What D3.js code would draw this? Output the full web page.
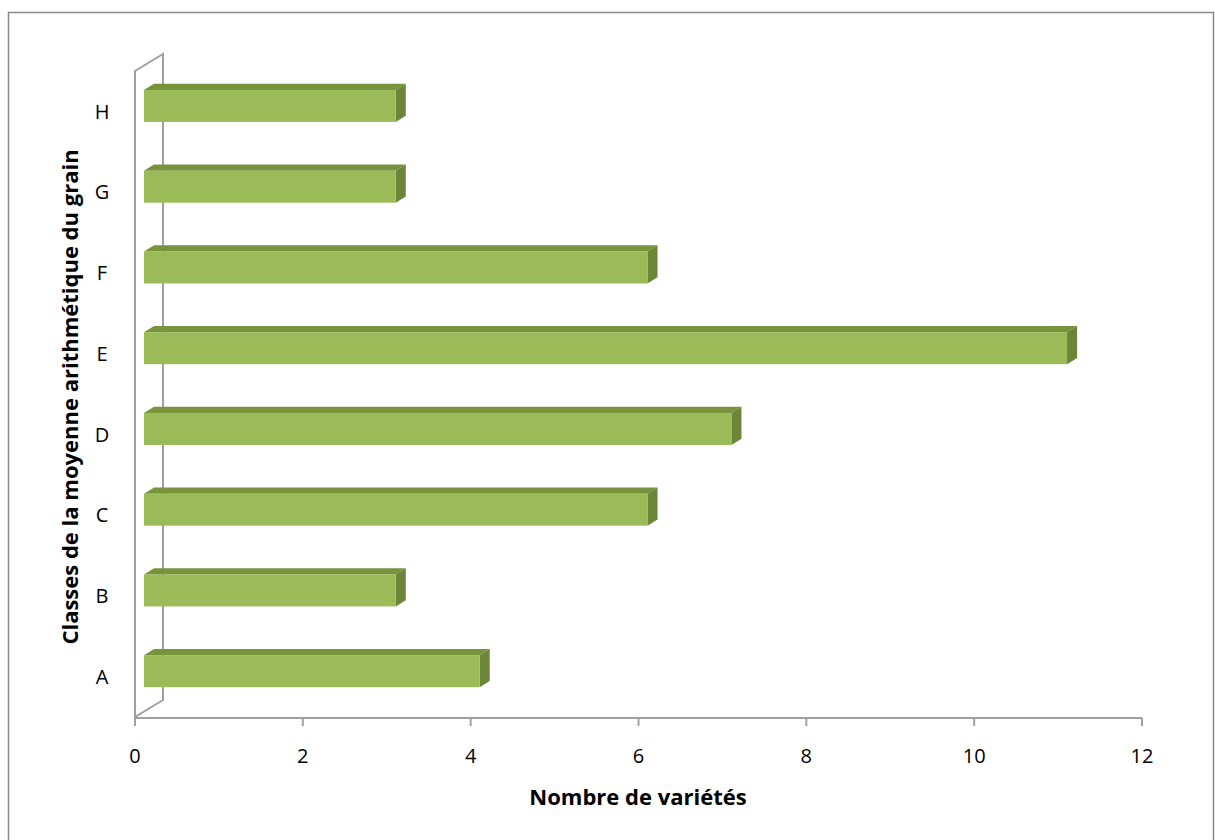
<!DOCTYPE html>
<html>
<head>
<meta charset="utf-8">
<script src="https://cdn.jsdelivr.net/npm/d3@7"></script>
<style>
  body { margin: 0; background: #fff; }
  text { font-family: "Open Sans", "Liberation Sans", sans-serif; fill: #000; }
</style>
</head>
<body>
<svg id="chart" width="1215" height="840"></svg>
<script>
const categories = ["A", "B", "C", "D", "E", "F", "G", "H"];
const values = [4, 3, 6, 7, 11, 6, 3, 3];
const xTicks = [0, 2, 4, 6, 8, 10, 12];
const xTitle = "Nombre de variétés";
const yTitle = "Classes de la moyenne arithmétique du grain";

const FRONT = "#9bbb59";
const TOP = "#77933c";
const SIDE = "#6b8637";
const AXIS = "#a0a0a0";

// depth of the 3d box (back wall offset)
const DX = 28, DY = -17;
const T0 = 0.32, T1 = 0.68; // bar front / back in depth

const svg = d3.select("#chart");

// outer frame
svg.append("rect")
  .attr("x", 8.5).attr("y", 12.5)
  .attr("width", 1205).attr("height", 840)
  .attr("fill", "none").attr("stroke", "#888").attr("stroke-width", 1.5);

const x = d3.scaleLinear().domain([0, 12]).range([135, 1142]);
const y = d3.scaleBand().domain(categories.slice().reverse()).range([71, 717]);

const x0 = x(0), yBot = y.range()[1], yTop = y.range()[0];

// side wall
const wall = svg.append("g").attr("fill", "none").attr("stroke", AXIS).attr("stroke-width", 2);
wall.append("path")
  .attr("d", `M${x0},${yBot} L${x0},${yTop} L${x0 + DX},${yTop + DY} L${x0 + DX},${yBot + DY} Z`);

// floor line + ticks
const axis = svg.append("g").attr("stroke", AXIS).attr("stroke-width", 2);
axis.append("line")
  .attr("x1", x0).attr("x2", x(12))
  .attr("y1", yBot + 1).attr("y2", yBot + 1);
axis.selectAll("line.tick")
  .data(xTicks)
  .join("line")
  .attr("class", "tick")
  .attr("x1", (d) => x(d)).attr("x2", (d) => x(d))
  .attr("y1", yBot + 1).attr("y2", yBot + 9);

svg.append("g")
  .selectAll("text")
  .data(xTicks)
  .join("text")
  .attr("x", (d) => x(d))
  .attr("y", yBot + 46)
  .attr("text-anchor", "middle")
  .style("font-size", "20px")
  .text((d) => d);

// category labels
svg.append("g")
  .selectAll("text")
  .data(categories)
  .join("text")
  .attr("x", 102)
  .attr("y", (d) => y(d) + y.bandwidth() / 2 + 2)
  .attr("text-anchor", "middle")
  .attr("dominant-baseline", "middle")
  .style("font-size", "20px")
  .text((d) => d);

// bars
const barH = 32;
const bars = svg.append("g")
  .selectAll("g")
  .data(categories.map((c, i) => ({ cat: c, val: values[i] })))
  .join("g");

function frontRect(d) {
  const cy = y(d.cat) + y.bandwidth() / 2;
  return {
    xl: x(0) + T0 * DX,
    xr: x(d.val) + T0 * DX,
    yt: cy - barH / 2 + T0 * DY,
    yb: cy + barH / 2 + T0 * DY,
  };
}
const ddx = (T1 - T0) * DX, ddy = (T1 - T0) * DY;

bars.append("path")
  .attr("fill", TOP)
  .attr("d", (d) => {
    const r = frontRect(d);
    return `M${r.xl},${r.yt} L${r.xl + ddx},${r.yt + ddy} L${r.xr + ddx},${r.yt + ddy} L${r.xr},${r.yt} Z`;
  });
bars.append("path")
  .attr("fill", SIDE)
  .attr("d", (d) => {
    const r = frontRect(d);
    return `M${r.xr},${r.yt} L${r.xr + ddx},${r.yt + ddy} L${r.xr + ddx},${r.yb + ddy} L${r.xr},${r.yb} Z`;
  });
bars.append("rect")
  .attr("fill", FRONT)
  .attr("x", (d) => frontRect(d).xl)
  .attr("y", (d) => frontRect(d).yt)
  .attr("width", (d) => frontRect(d).xr - frontRect(d).xl)
  .attr("height", barH);

// titles
svg.append("text")
  .attr("x", 638)
  .attr("y", 805)
  .attr("text-anchor", "middle")
  .style("font-size", "22px")
  .style("font-weight", "bold")
  .text(xTitle);

svg.append("text")
  .attr("transform", "translate(78,397) rotate(-90)")
  .attr("text-anchor", "middle")
  .style("font-size", "22px")
  .style("font-weight", "bold")
  .text(yTitle);
</script>
</body>
</html>
